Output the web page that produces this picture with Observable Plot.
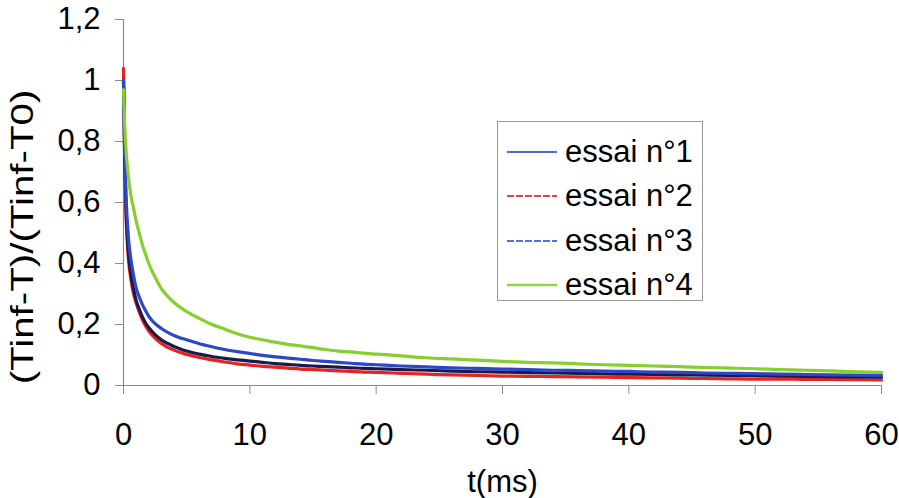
<!DOCTYPE html>
<html>
<head>
<meta charset="utf-8">
<script src="https://cdn.jsdelivr.net/npm/d3@7"></script>
<script src="https://cdn.jsdelivr.net/npm/@observablehq/plot@0.6"></script>
<style>
  html, body { margin: 0; padding: 0; background: #fff; }
  #wrap { position: relative; width: 899px; height: 498px; font-family: "Liberation Sans", Arial, sans-serif; }
  #ytitle { position: absolute; left: 23px; top: 237px; transform: translate(-50%, -50%) rotate(-90deg) scaleX(1.3); white-space: nowrap; font-size: 31px; color: #000; }
  #legend { position: absolute; left: 497px; top: 121px; width: 206px; height: 180px; border: 1.5px solid #999; background: #fff; box-sizing: border-box; }
  .row { position: absolute; left: 0; height: 36px; display: flex; align-items: center; font-size: 31px; color: #000; }
  .sw { display: block; margin-left: 9px; margin-right: 8px; }
</style>
</head>
<body>
<div id="wrap"></div>
<script>
// ---- data ----
const t = [0, 0.1, 0.2, 0.3, 0.4, 0.6, 0.8, 1, 1.25, 1.5, 1.75, 2, 2.5, 3, 3.5, 4, 4.5, 5, 6, 7, 8, 9, 10,
  11, 12, 13, 14, 15, 16, 17, 18, 19, 20, 22, 24, 26, 28, 30, 32, 34, 36, 38, 40, 42, 44, 46, 48, 50, 52, 54, 56, 58, 60];

const essai1 = [1.0, 0.78, 0.62, 0.54, 0.48, 0.41, 0.36, 0.32, 0.29, 0.265, 0.245, 0.227, 0.203, 0.187, 0.174, 0.164, 0.156, 0.15, 0.137, 0.127, 0.118, 0.111, 0.105,
  0.099, 0.094, 0.09, 0.086, 0.082, 0.079, 0.076, 0.073, 0.07, 0.068, 0.064, 0.061, 0.058, 0.056, 0.054, 0.052, 0.05, 0.049, 0.047, 0.046, 0.044, 0.043, 0.041, 0.04, 0.039, 0.037, 0.036, 0.035, 0.034, 0.033];

const essai2 = [1.04, 0.72, 0.56, 0.47, 0.41, 0.345, 0.3, 0.27, 0.24, 0.215, 0.195, 0.178, 0.155, 0.138, 0.125, 0.116, 0.108, 0.102, 0.092, 0.084, 0.077, 0.071, 0.067,
  0.063, 0.06, 0.057, 0.054, 0.052, 0.05, 0.048, 0.046, 0.044, 0.043, 0.04, 0.037, 0.035, 0.033, 0.031, 0.03, 0.029, 0.028, 0.027, 0.026, 0.025, 0.024, 0.023, 0.022, 0.021, 0.021, 0.02, 0.02, 0.019, 0.018];

const essai3 = [1.0, 0.74, 0.58, 0.49, 0.43, 0.36, 0.315, 0.28, 0.25, 0.225, 0.205, 0.19, 0.167, 0.15, 0.138, 0.128, 0.12, 0.113, 0.103, 0.095, 0.089, 0.084, 0.08,
  0.076, 0.072, 0.069, 0.066, 0.064, 0.062, 0.06, 0.058, 0.056, 0.055, 0.052, 0.05, 0.047, 0.045, 0.044, 0.042, 0.041, 0.04, 0.038, 0.037, 0.036, 0.035, 0.034, 0.033, 0.032, 0.031, 0.03, 0.029, 0.028, 0.027];

const essai4 = [0.97, 0.85, 0.77, 0.72, 0.68, 0.62, 0.58, 0.54, 0.5, 0.46, 0.43, 0.4, 0.355, 0.318, 0.292, 0.272, 0.256, 0.242, 0.22, 0.2, 0.185, 0.17, 0.158,
  0.15, 0.142, 0.135, 0.13, 0.124, 0.118, 0.113, 0.11, 0.106, 0.103, 0.097, 0.091, 0.087, 0.083, 0.079, 0.076, 0.074, 0.071, 0.068, 0.066, 0.064, 0.062, 0.059, 0.057, 0.055, 0.052, 0.05, 0.048, 0.045, 0.043];

const seriesNames = ["essai n°1", "essai n°2", "essai n°3", "essai n°4"];
const seriesColors = ["#2c48c8", "#e6231e", "#1a1a4e", "#86cf2e"];
const legendColors = ["#4a6ad0", "#e8443f", "#5c72d2", "#8ed448"];
const legendDash = [null, "7 2", "7 2", null];

const xTicks = [0, 10, 20, 30, 40, 50, 60];
const yTicks = [0, 0.2, 0.4, 0.6, 0.8, 1, 1.2];
const yTickLabels = ["0", "0,2", "0,4", "0,6", "0,8", "1", "1,2"];
const xTitle = "t(ms)";
const yTitle = "(Tinf-T)/(Tinf-T0)";

// ---- table built from the arrays ----
const allSeries = [essai1, essai2, essai3, essai4];
const drawOrder = [1, 2, 0, 3];
const rows = [];
for (const k of drawOrder) {
  allSeries[k].forEach((v, i) => rows.push({t: t[i], v, s: seriesNames[k]}));
}

const chart = Plot.plot({
  width: 899,
  height: 498,
  marginLeft: 123,
  marginRight: 18,
  marginTop: 19,
  marginBottom: 113,
  style: {fontFamily: "'Liberation Sans', Arial, sans-serif", fontSize: "31px", color: "#000", background: "#fff"},
  x: {domain: [0, 60]},
  y: {domain: [0, 1.2]},
  color: {domain: seriesNames, range: seriesColors},
  marks: [
    Plot.axisY({ticks: yTicks, tickSize: 8, tickPadding: 15, stroke: "#8c8c8c", fill: "#000",
      tickFormat: d => yTickLabels[yTicks.indexOf(d)], label: null}),
    Plot.axisX({ticks: xTicks, tickSize: 9, tickPadding: 28, stroke: "#8c8c8c", fill: "#000",
      label: xTitle, labelAnchor: "center", labelArrow: "none", labelOffset: 106}),
    Plot.ruleX([0], {stroke: "#8c8c8c", strokeWidth: 1.2}),
    Plot.ruleY([0], {stroke: "#8c8c8c", strokeWidth: 1.2}),
    Plot.line(rows, {x: "t", y: "v", z: "s", stroke: "s", strokeWidth: 3.2, curve: "monotone-x"})
  ]
});

const wrap = document.getElementById("wrap");
wrap.appendChild(chart);

const yt = document.createElement("div");
yt.id = "ytitle";
yt.textContent = yTitle;
wrap.appendChild(yt);

const NS = "http://www.w3.org/2000/svg";
const lg = document.createElement("div");
lg.id = "legend";
const rowCenters = [30, 74, 119, 163];
seriesNames.forEach((name, i) => {
  const r = document.createElement("div");
  r.className = "row";
  r.style.top = (rowCenters[i] - 18) + "px";
  const sw = document.createElementNS(NS, "svg");
  sw.setAttribute("class", "sw");
  sw.setAttribute("width", "50");
  sw.setAttribute("height", "6");
  const ln = document.createElementNS(NS, "line");
  ln.setAttribute("x1", "0"); ln.setAttribute("x2", "50");
  ln.setAttribute("y1", "3"); ln.setAttribute("y2", "3");
  ln.setAttribute("stroke", legendColors[i]);
  ln.setAttribute("stroke-width", i === 3 ? "2.5" : "2");
  if (legendDash[i]) ln.setAttribute("stroke-dasharray", legendDash[i]);
  sw.appendChild(ln);
  const tx = document.createElement("span");
  tx.textContent = name;
  r.appendChild(sw);
  r.appendChild(tx);
  lg.appendChild(r);
});
wrap.appendChild(lg);
</script>
</body>
</html>
